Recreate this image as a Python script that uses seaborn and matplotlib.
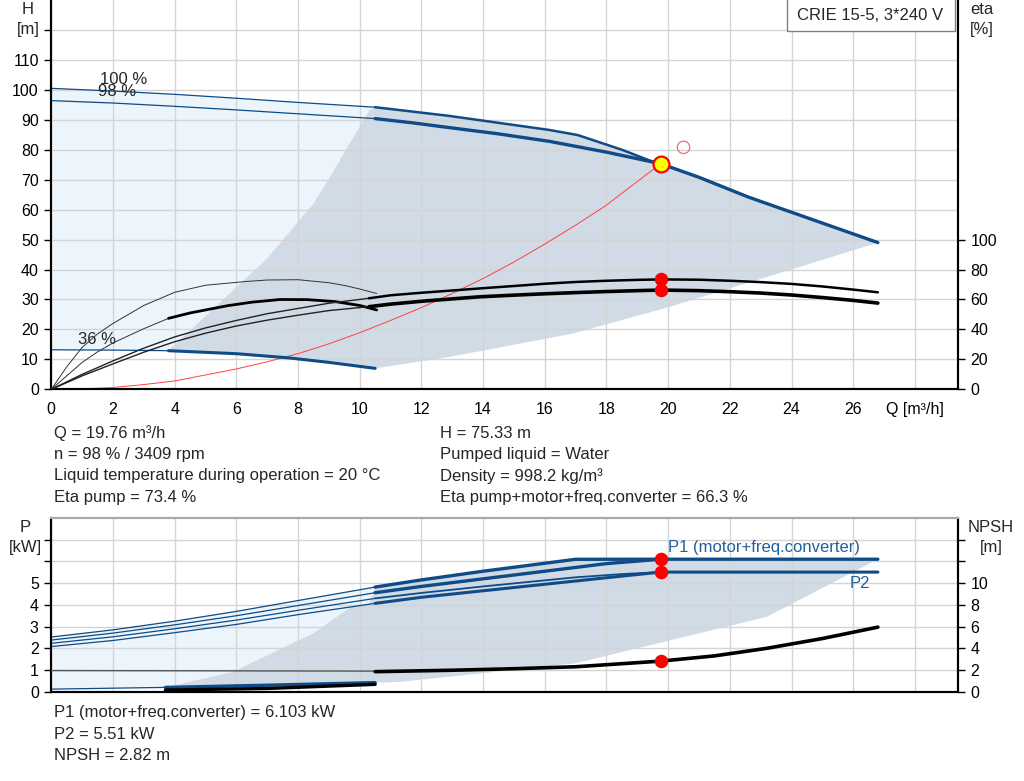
import matplotlib.pyplot as plt
import seaborn as sns
from matplotlib.patches import Rectangle

# duty point
Q_DUTY = 19.76
H_DUTY = 75.33
ETA_PUMP = 73.4
ETA_TOTAL = 66.3
P1_DUTY = 6.103
P2_DUTY = 5.51
NPSH_DUTY = 2.82

# head curves, H [m] vs Q [m3/h]
q_h100_thin = [0, 2, 4, 6, 8, 10.5]
h100_thin = [100.5, 99.6, 98.5, 97.2, 95.8, 94.2]
q_h100 = [10.5, 12.9, 16.15, 17.07, 18.5, 19.4, 19.76]
h100 = [94.2, 91.3, 86.6, 84.9, 80.0, 76.4, 75.33]
q_h98_thin = [0, 2, 4, 6, 8, 10.5]
h98_thin = [96.4, 95.6, 94.5, 93.3, 92.0, 90.4]
q_h98 = [10.5, 11.7, 12.9, 14.5, 16.15, 18.0, 19.76, 21.0, 22.6, 24.7, 26.8]
h98 = [90.4, 89.0, 87.4, 85.3, 82.8, 79.2, 75.33, 70.8, 64.2, 56.6, 49.0]
q_h36_thin = [0, 2, 3.8]
h36_thin = [13.2, 13.1, 12.9]
q_h36 = [3.8, 6, 7.7, 9, 10.5]
h36 = [12.9, 11.9, 10.5, 9.0, 7.0]

# system curve
q_sys = [0, 1, 2, 3, 4, 5, 6, 7, 8, 9, 10, 11, 12, 13, 14, 15, 16, 17, 18, 18.9, 19.76]
h_sys = [0, 0.15, 0.6, 1.6, 2.8, 4.8, 6.8, 9.2, 11.9, 15.2, 18.9, 23.0, 27.3, 32.0,
         37.0, 42.5, 48.5, 54.8, 61.5, 68.6, 75.33]

# efficiency curves, eta [%]
q_e36p = [0, 0.5, 1, 1.5, 2, 3, 4, 5, 6.3, 7, 8, 9, 9.5, 10, 10.55]
e36p = [0, 15, 28, 37, 44, 56, 64.8, 69.5, 72, 73, 73.2, 71.2, 69.4, 67, 64]
q_e36t_thin = [0, 0.5, 1, 1.5, 2, 3, 3.8]
e36t_thin = [0, 9, 18, 25, 31, 40.5, 47.4]
q_e36t = [3.8, 4.5, 5.7, 6.5, 7.42, 8.3, 9.2, 10, 10.55]
e36t = [47.4, 51, 55.8, 58.2, 60, 59.9, 58.6, 56, 53]
q_ep_thin = [0, 0.5, 1, 2, 3, 4, 5, 6, 7, 8, 9, 10.3]
ep_thin = [0, 5, 10, 19, 27.5, 35, 41, 46, 50.5, 54, 57.5, 60.8]
q_ep = [10.3, 11, 12, 13, 13.9, 15, 16, 17, 18, 19, 19.76, 21, 22, 23, 24, 25, 26, 26.8]
ep = [60.8, 62.8, 64.5, 66, 67.4, 69, 70.5, 71.7, 72.5, 73.1, 73.4, 73.2, 72.5, 71.6,
      70.4, 68.7, 66.6, 64.8]
q_et_thin = [0, 0.5, 1, 2, 3, 4, 5, 6, 7, 8, 9, 10.3]
et_thin = [0, 4.5, 9, 17, 24.8, 31.8, 37.5, 42.3, 46.2, 49.5, 52.6, 55.2]
q_et = [10.3, 11, 12, 13, 13.9, 15, 16, 17, 18, 19, 19.76, 21, 22, 23, 24, 25, 26, 26.8]
et = [55.2, 56.9, 58.8, 60.4, 61.8, 62.9, 63.8, 64.6, 65.3, 65.9, 66.3, 65.9, 65.2,
      64.3, 63.0, 61.3, 59.4, 57.6]

# operating range (head chart)
q_range = [3.8, 7.0, 8.5, 9.1, 10.3, 10.5, 12.9, 16.15, 17.07, 18.5, 19.4, 19.76,
           22.6, 26.8, 23.9, 20.0, 16.9, 12.9, 10.5, 9, 7.7, 6, 3.8]
h_range = [12.9, 43.7, 62, 72, 93, 94.2, 91.3, 86.6, 84.9, 80.0, 76.4, 75.33,
           64.2, 49.0, 39.7, 27.4, 18.6, 10.8, 7.0, 9.0, 10.5, 11.9, 12.9]

# power curves, P [kW]
q_pl = [0, 2, 4, 6, 8, 10.5]
p1_100_thin = [2.52, 2.85, 3.25, 3.7, 4.2, 4.82]
p1_98_thin = [2.38, 2.7, 3.08, 3.5, 3.97, 4.56]
p2_100_thin = [2.23, 2.53, 2.9, 3.3, 3.75, 4.30]
p2_98_thin = [2.08, 2.36, 2.72, 3.1, 3.55, 4.07]
q_p1_100 = [10.5, 12, 14, 17.0, 19.76, 26.8]
p1_100 = [4.82, 5.15, 5.55, 6.1, 6.103, 6.103]
q_p1_98 = [10.5, 12, 14, 16, 18, 19.76]
p1_98 = [4.56, 4.85, 5.2, 5.55, 5.9, 6.103]
q_p2_100 = [10.5, 12, 14, 17, 18.5, 19.76]
p2_100 = [4.30, 4.55, 4.85, 5.27, 5.42, 5.51]
q_p2_98 = [10.5, 12, 14, 16, 18, 19.76, 26.8]
p2_98 = [4.07, 4.35, 4.65, 4.95, 5.25, 5.51, 5.51]
q_pmin_thin = [0, 3.7]
pmin_thin = [0.12, 0.2]
q_pmin = [3.7, 7, 10.5]
pmin = [0.2, 0.3, 0.42]

# NPSH curves [m]
q_npsh_min = [3.7, 7, 10.5]
npsh_min = [0.16, 0.3, 0.68]
q_npsh_thin = [0, 10.5]
npsh_thin = [1.95, 1.9]
q_npsh = [10.5, 13, 15, 17, 19.76, 21.5, 23.2, 25, 26.8]
npsh = [1.85, 1.98, 2.12, 2.3, 2.82, 3.3, 4.0, 4.9, 5.95]

# operating range (power chart)
q_prange = [3.7, 5.9, 8.5, 9.8, 10.3, 10.5, 12, 14, 17.0, 26.8,
            23.2, 17.0, 11.3, 10.5, 7, 3.7]
p_prange = [0.2, 0.92, 2.69, 3.99, 4.05, 4.82, 5.15, 5.55, 6.1, 6.103,
            3.45, 1.31, 0.45, 0.42, 0.3, 0.2]

BLUE = "#0e4b87"
TXT_BLUE = "#22609c"
LIGHT = "#edf5fc"
GRAY = "#d0dbe6"
GRID = "#d4d4d4"
FS = 12
TICK_FS = 11.5

sns.set_style("white")
plt.rcParams["font.family"] = ["Liberation Sans", "DejaVu Sans"]
plt.rcParams["font.size"] = FS


def line(ax, q, v, color=BLUE, lw=2.2, z=3):
    sns.lineplot(x=q, y=v, ax=ax, color=color, linewidth=lw, sort=False,
                 estimator=None, legend=False, zorder=z)


def style(ax):
    ax.tick_params(direction="out", length=5, width=1, labelsize=TICK_FS, pad=4,
                   colors="black")
    for s in ax.spines.values():
        s.set_linewidth(1.5)
        s.set_color("black")


fig = plt.figure(figsize=(10.24, 7.81), dpi=100)
ax = fig.add_axes([0.0501, 0.5015, 0.8855, 0.4985])
ax_eta = ax.twinx()
axp = fig.add_axes([0.0501, 0.1143, 0.8855, 0.2224])
ax_n = axp.twinx()

# ---- head chart
light_q = q_h100_thin + q_h36[::-1] + q_h36_thin[::-1]
light_h = h100_thin + h36[::-1] + h36_thin[::-1]
ax.fill(light_q, light_h, color=LIGHT, lw=0, zorder=0.5)
ax.fill(q_range, h_range, color=GRAY, lw=0, zorder=0.6)

line(ax, q_sys, h_sys, color="#ff4040", lw=0.7)
line(ax, q_h100_thin, h100_thin, lw=0.9)
line(ax, q_h98_thin, h98_thin, lw=0.9)
line(ax, q_h36_thin, h36_thin, lw=0.9)
line(ax, q_h100, h100, lw=1.8)
line(ax, q_h98, h98, lw=2.4)
line(ax, q_h36, h36, lw=2.2)
ax.scatter([20.5], [80.8], s=80, facecolor="none", edgecolor="#f07070",
           lw=0.9, zorder=5)
ax.scatter([Q_DUTY], [H_DUTY], s=130, facecolor="#ffff00", edgecolor="#ff0000",
           lw=1.6, zorder=6)

ax.text(1.58, 103.3, "100 %", fontsize=FS, va="center")
ax.text(1.51, 99.3, "98 %", fontsize=FS, va="center")
ax.text(0.87, 16.8, "36 %", fontsize=FS, va="center")

ax.set_xlim(0, 29.4)
ax.set_ylim(0, 130)
ax.set_xticks(range(0, 29, 2))
ax.set_xticklabels([str(v) for v in range(0, 27, 2)] + ["Q [m³/h]"])
ax.set_yticks(range(0, 121, 10))
ax.set_yticklabels([str(v) for v in range(0, 111, 10)] + [""])
ax.grid(True, color=GRID, lw=1.0)
ax.set_axisbelow("line")
style(ax)
ax.spines["top"].set_visible(False)

line(ax_eta, q_e36p, e36p, color="#333333", lw=0.7)
line(ax_eta, q_e36t_thin, e36t_thin, color="#333333", lw=0.7)
line(ax_eta, q_e36t, e36t, color="black", lw=2.0)
line(ax_eta, q_ep_thin, ep_thin, color="#222222", lw=1.0)
line(ax_eta, q_et_thin, et_thin, color="#222222", lw=1.0)
line(ax_eta, q_ep, ep, color="black", lw=1.8)
line(ax_eta, q_et, et, color="black", lw=2.6)
ax_eta.scatter([Q_DUTY, Q_DUTY], [ETA_PUMP, ETA_TOTAL], s=95, color="#ff0000",
               lw=0, zorder=6)
ax_eta.set_ylim(0, 260)
ax_eta.set_yticks(range(0, 101, 20))
style(ax_eta)
ax_eta.spines["top"].set_visible(False)

# ---- power / NPSH chart
plight_q = q_pl + q_pmin[::-1] + q_pmin_thin[::-1]
plight_p = p1_100_thin + pmin[::-1] + pmin_thin[::-1]
axp.fill(plight_q, plight_p, color=LIGHT, lw=0, zorder=0.5)
axp.fill(q_prange, p_prange, color=GRAY, lw=0, zorder=0.6)

for vals in (p1_100_thin, p1_98_thin, p2_100_thin, p2_98_thin):
    line(axp, q_pl, vals, lw=0.9)
line(axp, q_p1_100, p1_100, lw=2.4)
line(axp, q_p1_98, p1_98, lw=2.4)
line(axp, q_p2_100, p2_100, lw=1.3)
line(axp, q_p2_98, p2_98, lw=2.2)
line(axp, q_pmin_thin, pmin_thin, lw=0.9)
line(axp, q_pmin, pmin, lw=2.4)
axp.scatter([Q_DUTY, Q_DUTY], [P1_DUTY, P2_DUTY], s=95, color="#ff0000",
            lw=0, zorder=6)
axp.text(20.0, 6.66, "P1 (motor+freq.converter)", color=TXT_BLUE, fontsize=FS,
         va="center")
axp.text(25.9, 5.0, "P2", color=TXT_BLUE, fontsize=FS, va="center")

axp.set_xlim(0, 29.4)
axp.set_ylim(0, 8)
axp.set_xticks(range(0, 29, 2))
axp.set_xticklabels([])
axp.set_yticks(range(0, 8))
axp.set_yticklabels([str(v) for v in range(0, 6)] + ["", ""])
axp.grid(True, color=GRID, lw=1.0)
axp.set_axisbelow("line")
style(axp)
axp.tick_params(axis="x", length=0)
axp.spines["top"].set_color("#a8a8a8")

line(ax_n, q_npsh_thin, npsh_thin, color="#555555", lw=1.0)
line(ax_n, q_npsh_min, npsh_min, color="black", lw=2.4)
line(ax_n, q_npsh, npsh, color="black", lw=2.6)
ax_n.scatter([Q_DUTY], [NPSH_DUTY], s=95, color="#ff0000", lw=0, zorder=6)
ax_n.set_ylim(0, 16)
ax_n.set_yticks(range(0, 15, 2))
ax_n.set_yticklabels([str(v) for v in range(0, 11, 2)] + ["", ""])
style(ax_n)
ax_n.spines["top"].set_color("#a8a8a8")

# ---- axis titles and info texts
titles = [(28, 10, "H", "[m]"), (982, 10, "eta", "[%]"),
          (25, 528, "P", "[kW]"), (991, 528, "NPSH", "[m]")]
for x, y, top, unit in titles:
    fig.text(x / 1024, 1 - y / 781, top, ha="center", va="center", fontsize=FS)
    fig.text(x / 1024, 1 - (y + 19.5) / 781, unit, ha="center", va="center",
             fontsize=FS)

fig.patches.append(Rectangle((787 / 1024, 1 - 31 / 781), 168 / 1024, 33 / 781,
                             transform=fig.transFigure, facecolor="white",
                             edgecolor="#808080", lw=1.0, zorder=10))
fig.text(870 / 1024, 1 - 15 / 781, "CRIE 15-5, 3*240 V", ha="center",
         va="center", fontsize=FS, zorder=11)

left_info = ["Q = 19.76 m³/h", "n = 98 % / 3409 rpm",
             "Liquid temperature during operation = 20 °C", "Eta pump = 73.4 %"]
right_info = ["H = 75.33 m", "Pumped liquid = Water", "Density = 998.2 kg/m³",
              "Eta pump+motor+freq.converter = 66.3 %"]
bottom_info = ["P1 (motor+freq.converter) = 6.103 kW", "P2 = 5.51 kW",
               "NPSH = 2.82 m"]
for i, (a, b) in enumerate(zip(left_info, right_info)):
    y = 1 - (433 + 21.4 * i) / 781
    fig.text(54 / 1024, y, a, va="center", fontsize=FS)
    fig.text(440 / 1024, y, b, va="center", fontsize=FS)
for i, a in enumerate(bottom_info):
    fig.text(54 / 1024, 1 - (713 + 21.5 * i) / 781, a, va="center", fontsize=FS)

fig.savefig("out.png", dpi=100)
